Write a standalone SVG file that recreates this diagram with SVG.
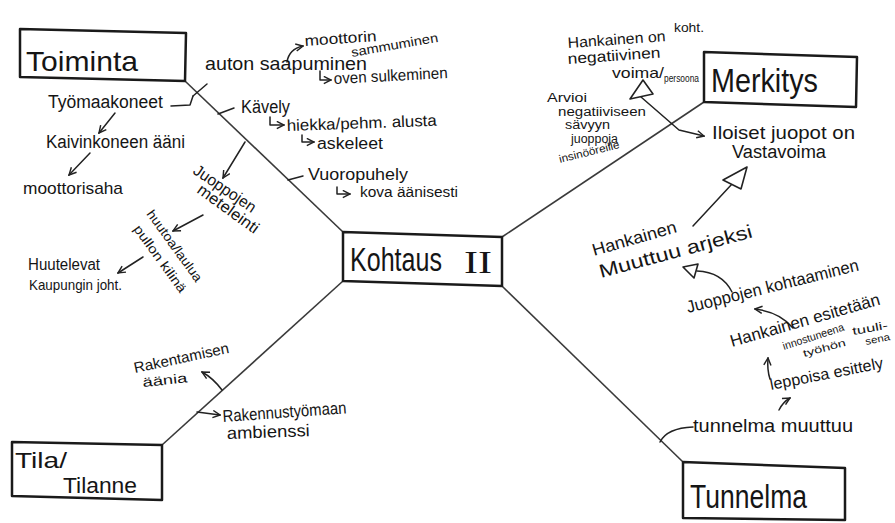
<svg xmlns="http://www.w3.org/2000/svg" width="895" height="523" viewBox="0 0 895 523">
<defs>
<style>
.box{fill:#fff;stroke:#1a1a1a;stroke-width:2.5;stroke-linejoin:round}
.ln{stroke:#3a3a3a;stroke-width:1.6;fill:none}
.cn{stroke:#222;stroke-width:1.5;fill:none;stroke-linecap:round;stroke-linejoin:round}
.hd{fill:#fff;stroke:#222;stroke-width:1.6;stroke-linejoin:round}
.t{font-family:"Liberation Sans","DejaVu Sans",sans-serif;fill:#151515}
.big{font-size:33px}
.rn{font-family:"Liberation Serif",serif;fill:#151515;font-size:32px}
</style>
<marker id="arr" viewBox="0 0 10 10" refX="9" refY="5" markerWidth="9" markerHeight="9" orient="auto" markerUnits="userSpaceOnUse">
<path d="M1,1 L9,5 L1,9" fill="none" stroke="#222" stroke-width="1.6"/>
</marker>
</defs>
<rect width="895" height="523" fill="#fff"/>

<g id="connectors">
<path class="ln" d="M185,81 L343,232"/>
<path class="ln" d="M502,237 L704,102"/>
<path class="ln" d="M343,281 L162,445"/>
<path class="ln" d="M502,286 L683,462"/>
<path class="cn" d="M193,96 L207,84"/>
<path class="cn" d="M171,106 L190,105 L193,96"/>
<path class="cn" d="M287,62 Q289,49 303,46" marker-end="url(#arr)"/>
<path class="cn" d="M320,71 L320,80 L331,80" marker-end="url(#arr)"/>
<path class="cn" d="M218,114 L234,108"/>
<path class="cn" d="M270,117 L270,125 L284,125" marker-end="url(#arr)"/>
<path class="cn" d="M302,135 L302,142 L314,142" marker-end="url(#arr)"/>
<path class="cn" d="M245,142 L223,178" marker-end="url(#arr)"/>
<path class="cn" d="M288,180 L303,176"/>
<path class="cn" d="M337,187 L337,194 L350,194" marker-end="url(#arr)"/>
<path class="cn" d="M115,113 L99,133" marker-end="url(#arr)"/>
<path class="cn" d="M90,153 L69,175" marker-end="url(#arr)"/>
<path class="cn" d="M203,215 L173,231" marker-end="url(#arr)"/>
<path class="cn" d="M143,257 L118,273" marker-end="url(#arr)"/>
<path class="cn" d="M641,97 L679,130 L704,136" marker-end="url(#arr)"/>
<polygon class="hd" points="643,80 630,99 653,94"/>
<path class="cn" d="M693,226 L732,184"/>
<polygon class="hd" points="747,167 723,180 741,189"/>
<path class="cn" d="M732,292 Q722,272 697,271"/>
<polygon class="hd" points="683,267 698,264 694,278"/>
<path class="cn" d="M793,328 Q780,312 755,309" marker-end="url(#arr)"/>
<path class="cn" d="M770,379 Q767,370 768,358" marker-end="url(#arr)"/>
<path class="cn" d="M779,410 Q783,402 790,398" marker-end="url(#arr)"/>
<path class="cn" d="M660,442 Q667,428 693,427"/>
<path class="cn" d="M222,390 Q213,378 202,372" marker-end="url(#arr)"/>
<path class="cn" d="M197,412 L220,415" marker-end="url(#arr)"/>
</g>

<g id="toiminta">
<polygon class="box" points="20,29 186,33 185,81 20,77"/>
<text class="t" x="26" y="71" font-size="28" textLength="112" lengthAdjust="spacingAndGlyphs">Toiminta</text>
</g>
<g id="merkitys">
<polygon class="box" points="704,52 857,57 856,107 704,102"/>
<text class="t big" x="711" y="92" textLength="107" lengthAdjust="spacingAndGlyphs">Merkitys</text>
</g>
<g id="kohtaus">
<polygon class="box" points="343,232 502,237 502,286 343,281"/>
<text class="t" transform="translate(350,271) scale(0.76,1)" font-size="33">Kohtaus</text>
<text class="rn" x="464" y="273" textLength="28" lengthAdjust="spacingAndGlyphs">II</text>
</g>
<g id="tila">
<polygon class="box" points="12,442 162,445 162,500 12,496"/>
<text class="t" x="15" y="468" font-size="22" textLength="52" lengthAdjust="spacingAndGlyphs">Tila/</text>
<text class="t" x="63" y="493" font-size="22" textLength="74" lengthAdjust="spacingAndGlyphs">Tilanne</text>
</g>
<g id="tunnelma">
<polygon class="box" points="683,462 845,468 845,520 683,518"/>
<text class="t big" x="690" y="508" textLength="117" lengthAdjust="spacingAndGlyphs">Tunnelma</text>
</g>

<g id="auton-saapuminen"><text class="t" x="205" y="70" font-size="19" textLength="162" lengthAdjust="spacingAndGlyphs">auton saapuminen</text></g>
<g id="moottorin-sammuminen">
<text class="t" transform="translate(305,46) rotate(-4)" font-size="15" textLength="72" lengthAdjust="spacingAndGlyphs">moottorin</text>
<text class="t" transform="translate(352,57) rotate(-10)" font-size="13" textLength="88" lengthAdjust="spacingAndGlyphs">sammuminen</text>
</g>
<g id="oven-sulkeminen"><text class="t" transform="translate(334,84) rotate(-3)" font-size="16" textLength="114" lengthAdjust="spacingAndGlyphs">oven sulkeminen</text></g>
<g id="tyomaakoneet"><text class="t" x="48" y="108" font-size="18" textLength="115" lengthAdjust="spacingAndGlyphs">Työmaakoneet</text></g>
<g id="kaivinkone"><text class="t" x="46" y="148" font-size="18" textLength="139" lengthAdjust="spacingAndGlyphs">Kaivinkoneen ääni</text></g>
<g id="moottorisaha"><text class="t" x="23" y="194" font-size="17" textLength="100" lengthAdjust="spacingAndGlyphs">moottorisaha</text></g>
<g id="kavely"><text class="t" x="241" y="113" font-size="18" textLength="49" lengthAdjust="spacingAndGlyphs">Kävely</text></g>
<g id="hiekka"><text class="t" transform="translate(287,131) rotate(-2)" font-size="16" textLength="150" lengthAdjust="spacingAndGlyphs">hiekka/pehm. alusta</text></g>
<g id="askeleet"><text class="t" x="317" y="149" font-size="16" textLength="66" lengthAdjust="spacingAndGlyphs">askeleet</text></g>
<g id="vuoropuhely"><text class="t" x="308" y="180" font-size="17" textLength="100" lengthAdjust="spacingAndGlyphs">Vuoropuhely</text></g>
<g id="kova"><text class="t" x="360" y="197" font-size="14" textLength="98" lengthAdjust="spacingAndGlyphs">kova äänisesti</text></g>
<g id="juoppojen-meteleinti">
<text class="t" transform="translate(192,173) rotate(34)" font-size="16" textLength="72" lengthAdjust="spacingAndGlyphs">Juoppojen</text>
<text class="t" transform="translate(196,192) rotate(36)" font-size="16" textLength="72" lengthAdjust="spacingAndGlyphs">meteleinti</text>
</g>
<g id="huutoa">
<text class="t" transform="translate(146,214) rotate(54)" font-size="13" textLength="85" lengthAdjust="spacingAndGlyphs">huutoa/laulua</text>
<text class="t" transform="translate(133,229) rotate(54)" font-size="13" textLength="80" lengthAdjust="spacingAndGlyphs">pullon kilinä</text>
</g>
<g id="huutelevat">
<text class="t" x="28" y="270" font-size="16" textLength="72" lengthAdjust="spacingAndGlyphs">Huutelevat</text>
<text class="t" x="29" y="290" font-size="15" textLength="93" lengthAdjust="spacingAndGlyphs">Kaupungin joht.</text>
</g>

<g id="hankainen-negatiivinen">
<text class="t" transform="translate(568,48) rotate(-4)" font-size="15" textLength="98" lengthAdjust="spacingAndGlyphs">Hankainen on</text>
<text class="t" x="674" y="32" font-size="13" textLength="30" lengthAdjust="spacingAndGlyphs">koht.</text>
<text class="t" transform="translate(568,64) rotate(-4)" font-size="15" textLength="93" lengthAdjust="spacingAndGlyphs">negatiivinen</text>
<text class="t" x="612" y="78" font-size="15" textLength="52" lengthAdjust="spacingAndGlyphs">voima/</text>
<text class="t" x="664" y="82" font-size="10" textLength="35" lengthAdjust="spacingAndGlyphs">persoona</text>
</g>
<g id="arvioi">
<text class="t" x="547" y="102" font-size="12" textLength="40" lengthAdjust="spacingAndGlyphs">Arvioi</text>
<text class="t" x="558" y="116" font-size="12" textLength="88" lengthAdjust="spacingAndGlyphs">negatiiviseen</text>
<text class="t" x="565" y="129" font-size="12" textLength="45" lengthAdjust="spacingAndGlyphs">sävyyn</text>
<text class="t" x="571" y="143" font-size="12" textLength="47" lengthAdjust="spacingAndGlyphs">juoppoja</text>
<text class="t" transform="translate(560,163) rotate(-14)" font-size="11" textLength="62" lengthAdjust="spacingAndGlyphs">insinööreille</text>
</g>
<g id="iloiset">
<text class="t" x="712" y="139" font-size="19" textLength="143" lengthAdjust="spacingAndGlyphs">Iloiset juopot on</text>
<text class="t" x="732" y="158" font-size="18" textLength="94" lengthAdjust="spacingAndGlyphs">Vastavoima</text>
</g>
<g id="hankainen-muuttuu">
<text class="t" transform="translate(594,256) rotate(-16)" font-size="17" textLength="87" lengthAdjust="spacingAndGlyphs">Hankainen</text>
<text class="t" transform="translate(601,278) rotate(-15)" font-size="19" textLength="158" lengthAdjust="spacingAndGlyphs">Muuttuu arjeksi</text>
</g>
<g id="juoppojen-kohtaaminen"><text class="t" transform="translate(688,313) rotate(-14)" font-size="17" textLength="177" lengthAdjust="spacingAndGlyphs">Juoppojen kohtaaminen</text></g>
<g id="hankainen-esitetaan">
<text class="t" transform="translate(732,347) rotate(-16)" font-size="17" textLength="155" lengthAdjust="spacingAndGlyphs">Hankainen esitetään</text>
<text class="t" transform="translate(784,350) rotate(-18)" font-size="11" textLength="64" lengthAdjust="spacingAndGlyphs">innostuneena</text>
<text class="t" transform="translate(853,335) rotate(-10)" font-size="11" textLength="36" lengthAdjust="spacingAndGlyphs">tuuli-</text>
<text class="t" transform="translate(804,357) rotate(-15)" font-size="10" textLength="44" lengthAdjust="spacingAndGlyphs">työhön</text>
<text class="t" transform="translate(866,345) rotate(-12)" font-size="10" textLength="25" lengthAdjust="spacingAndGlyphs">sena</text>
</g>
<g id="leppoisa"><text class="t" transform="translate(771,390) rotate(-11)" font-size="16" textLength="115" lengthAdjust="spacingAndGlyphs">leppoisa esittely</text></g>
<g id="tunnelma-muuttuu"><text class="t" x="693" y="432" font-size="18" textLength="160" lengthAdjust="spacingAndGlyphs">tunnelma muuttuu</text></g>
<g id="rakentamisen">
<text class="t" transform="translate(135,373) rotate(-12)" font-size="15" textLength="97" lengthAdjust="spacingAndGlyphs">Rakentamisen</text>
<text class="t" transform="translate(143,387) rotate(-6)" font-size="13" textLength="45" lengthAdjust="spacingAndGlyphs">äänia</text>
</g>
<g id="rakennustyomaan">
<text class="t" transform="translate(223,422) rotate(-4)" font-size="17" textLength="124" lengthAdjust="spacingAndGlyphs">Rakennustyömaan</text>
<text class="t" transform="translate(227,439) rotate(-2)" font-size="17" textLength="83" lengthAdjust="spacingAndGlyphs">ambienssi</text>
</g>
</svg>
